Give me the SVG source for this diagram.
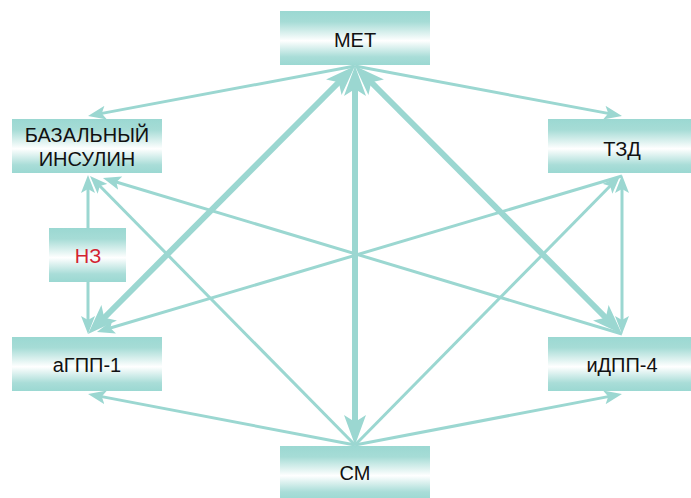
<svg xmlns="http://www.w3.org/2000/svg" width="691" height="498" viewBox="0 0 691 498">
<defs>
<linearGradient id="g" x1="0" y1="0" x2="0" y2="1">
<stop offset="0" stop-color="#9bd8d2"/>
<stop offset="0.2" stop-color="#a6dcd6"/>
<stop offset="0.55" stop-color="#ffffff"/>
<stop offset="0.85" stop-color="#a9ddd8"/>
<stop offset="1" stop-color="#9bd8d2"/>
</linearGradient>
<marker id="a" markerUnits="userSpaceOnUse" markerWidth="18" markerHeight="14" refX="12" refY="7" orient="auto-start-reverse" viewBox="0 0 18 14">
<path d="M0,0 L18,7 L0,14 L4,7 z" fill="#9bd7d1"/>
</marker>
<marker id="A" markerUnits="userSpaceOnUse" markerWidth="30" markerHeight="22" refX="18" refY="11" orient="auto-start-reverse" viewBox="0 0 30 22">
<path d="M0,0 L30,11 L0,22 L7,11 z" fill="#9bd7d1"/>
</marker>
</defs>
<style>
.box{fill:url(#g);}
.t{font-family:"Liberation Sans",Arial,sans-serif;font-size:20px;fill:#111;text-anchor:middle;}
.r{fill:#d32331;}
.c{stroke:#9bd7d1;fill:none;}
.thin{stroke-width:3;marker-end:url(#a);}
.dbl{stroke-width:3;marker-start:url(#a);marker-end:url(#a);}
.thick{stroke-width:6;marker-start:url(#A);marker-end:url(#A);}
</style>
<g id="connectors" class="c">
<line class="thin" x1="355" y1="66" x2="93.9" y2="114.9"/>
<line class="thin" x1="355" y1="66" x2="616.1" y2="114.9"/>
<line class="thin" x1="355" y1="445" x2="93.9" y2="395.1"/>
<line class="thin" x1="355" y1="445" x2="616.1" y2="395.1"/>
<line class="thin" x1="355" y1="445" x2="94.2" y2="180.3"/>
<line class="thin" x1="355" y1="445" x2="615.8" y2="180.3"/>
<line class="thin" x1="622" y1="334" x2="108.7" y2="179.7"/>
<line class="thin" x1="622" y1="176" x2="102.7" y2="330.3"/>
<line class="dbl" x1="88" y1="181" x2="88" y2="328"/>
<line class="dbl" x1="622" y1="181" x2="622" y2="328"/>
<line class="thick" x1="346.5" y1="74.5" x2="96.5" y2="325.5"/>
<line class="thick" x1="363.5" y1="74.5" x2="613.5" y2="325.5"/>
<line class="thick" x1="355" y1="78" x2="355" y2="433"/>
</g>
<g id="met"><rect class="box" x="280" y="11" width="150" height="54"/><text class="t" x="355" y="47">МЕТ</text></g>
<g id="bazal"><rect class="box" x="12" y="119" width="150" height="54"/><text class="t" x="87" y="142">БАЗАЛЬНЫЙ</text><text class="t" x="87" y="166">ИНСУЛИН</text></g>
<g id="tzd"><rect class="box" x="548" y="119" width="150" height="54"/><text class="t" x="622" y="156">ТЗД</text></g>
<g id="nz"><rect class="box" x="49" y="228" width="77" height="54"/><text class="t r" x="88" y="263">НЗ</text></g>
<g id="agpp"><rect class="box" x="12" y="337" width="150" height="54"/><text class="t" x="87" y="372">аГПП-1</text></g>
<g id="idpp"><rect class="box" x="548" y="337" width="150" height="54"/><text class="t" x="622" y="372">иДПП-4</text></g>
<g id="sm"><rect class="box" x="280" y="446" width="150" height="54"/><text class="t" x="355" y="480">СМ</text></g>
</svg>
